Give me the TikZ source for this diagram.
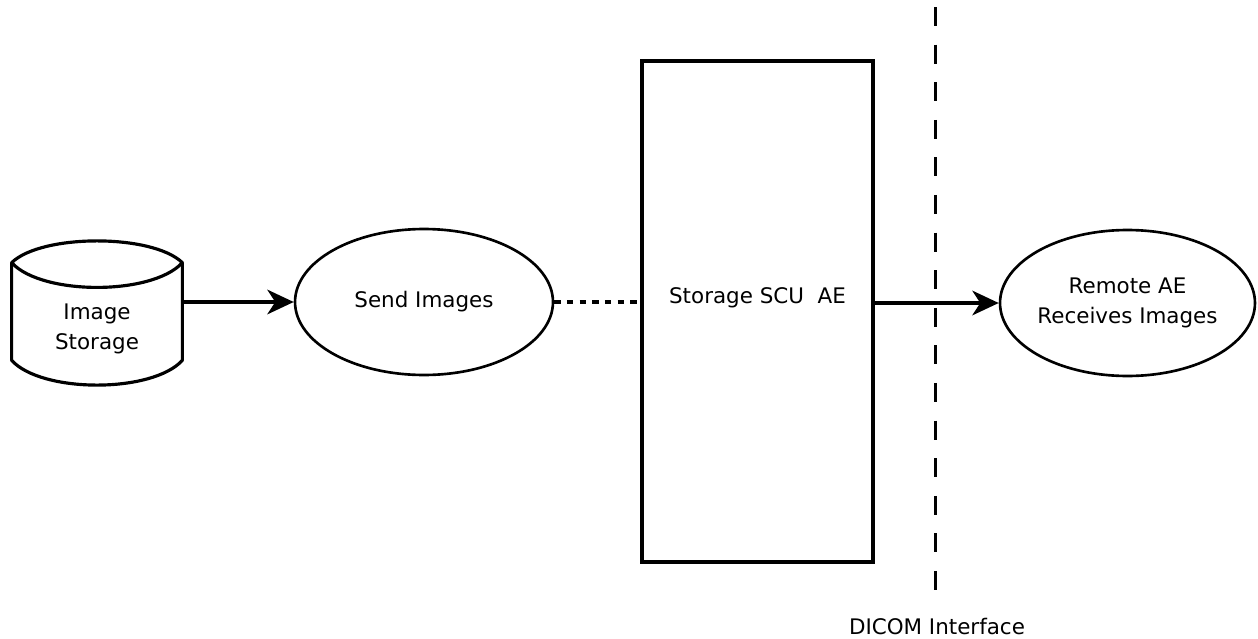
\documentclass[tikz,border=0pt]{standalone}
\usepackage{fontspec}
\setmainfont{DejaVu Sans}
\usetikzlibrary{positioning}
\usetikzlibrary{shapes.geometric}
\usetikzlibrary{arrows.meta}

\begin{document}
\begin{tikzpicture} [
        x=0.02cm, y=-0.02cm,
        every node/.style={font=\fontsize{12.2}{17}\selectfont, align=center},
        proc/.style={draw, ellipse, line width=1.5pt, minimum width=5.16cm, minimum height=2.92cm, inner sep=0pt},
        flow/.style={line width=2pt, -{Stealth[length=15pt, width=14pt, inset=4.5pt]}}
    ]
    \useasboundingbox (0,0) rectangle (1258,639);
    % image storage, drawn round an empty box
    \node[minimum width=3.4cm, minimum height=1.94cm, inner sep=0pt,
        label={[yshift=-0.34cm]center:Image\\Storage}] (store) at (97,311.5) {};
    \draw[line width=1.8pt, line join=round] (store.north west) .. controls +(30,-29) and +(-30,-29) .. (store.north east)
        -- (store.south east) .. controls +(-30,33) and +(30,33) .. (store.south west) -- cycle;
    \draw[line width=1.8pt] (store.north west) .. controls +(30,33) and +(-30,33) .. (store.north east);

    \node[proc] (send) at (424,302) {Send Images};
    \node[draw, line width=1.8pt, minimum width=4.62cm, minimum height=10.02cm, inner sep=0pt,
        label={[yshift=0.28cm]center:Storage SCU\ \ AE}] (scu) at (757.5,311.5) {};
    \node[proc, minimum width=5.1cm] (remote) at (1127.5,303) {Remote AE\\Receives Images};

    % dicom interface
    \node (iface) at (937,627) {DICOM Interface};
    \coordinate (ifacetop) at (935,7);
    \coordinate (ifacebot) at (935,592);
    \draw[line width=1.7pt, dash pattern=on 10.8pt off 10.6pt] (ifacetop) -- (ifacebot);

    \draw[flow] (store.east |- send) -- (send);
    \draw[line width=2pt, dash pattern=on 3.6pt off 3.6pt] (send) -- (scu.west |- send);
    \draw[flow] (scu.east |- remote) -- (remote);
\end{tikzpicture}
\end{document}
